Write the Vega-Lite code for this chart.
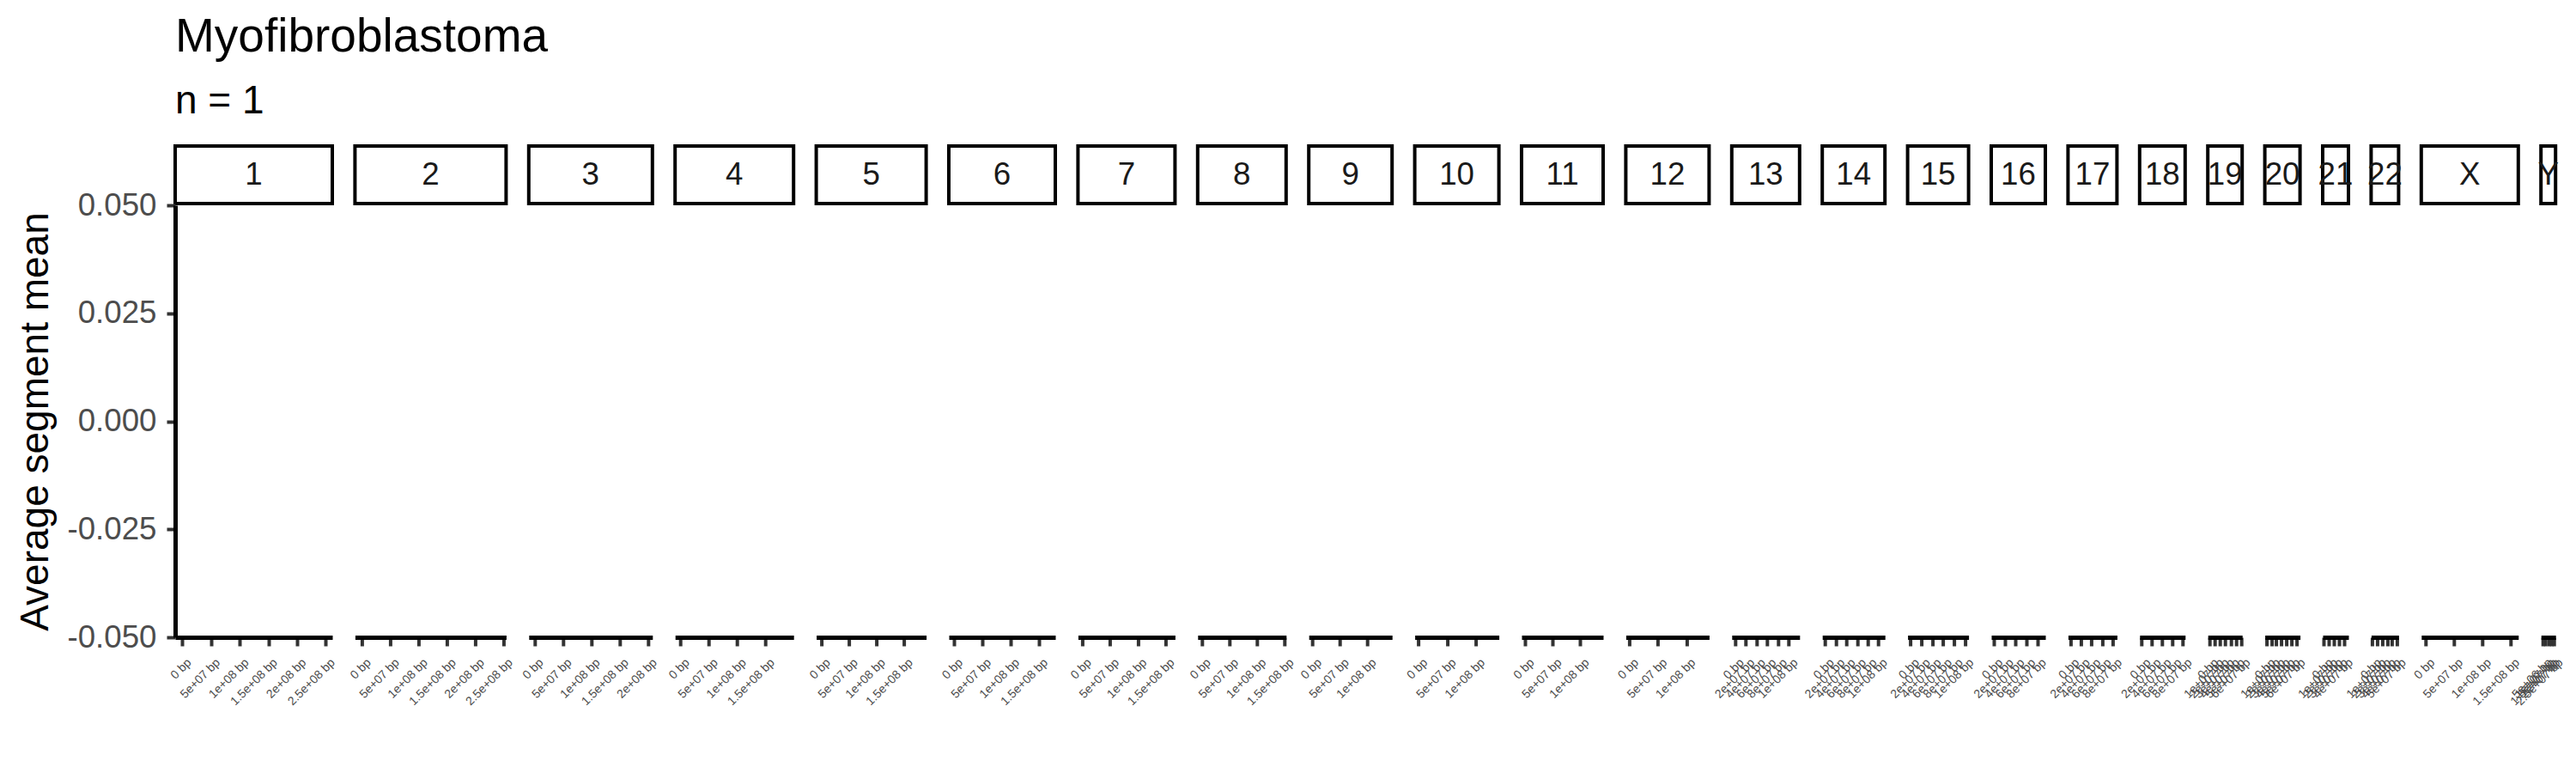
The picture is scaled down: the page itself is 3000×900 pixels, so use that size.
{
  "$schema": "https://vega.github.io/schema/vega-lite/v6.json",
  "background": "white",
  "padding": {"left": 18, "top": 16, "right": 10, "bottom": 10},
  "title": {"text": "Myofibroblastoma", "subtitle": "n = 1", "anchor": "start", "frame": "group", "fontSize": 55, "subtitleFontSize": 46, "font": "Liberation Sans", "subtitleFont": "Liberation Sans", "fontWeight": "normal", "color": "black", "subtitleColor": "black", "subtitlePadding": 24, "offset": 26},
  "datasets": {
    "chroms": [{"chrom":"1"},{"chrom":"2"},{"chrom":"3"},{"chrom":"4"},{"chrom":"5"},{"chrom":"6"},{"chrom":"7"},{"chrom":"8"},{"chrom":"9"},{"chrom":"10"},{"chrom":"11"},{"chrom":"12"},{"chrom":"13"},{"chrom":"14"},{"chrom":"15"},{"chrom":"16"},{"chrom":"17"},{"chrom":"18"},{"chrom":"19"},{"chrom":"20"},{"chrom":"21"},{"chrom":"22"},{"chrom":"X"},{"chrom":"Y"}],
    "extent": [
      {"chrom":"1","pos":0,"seg_mean":0},{"chrom":"1","pos":248956422,"seg_mean":0},
      {"chrom":"2","pos":0,"seg_mean":0},{"chrom":"2","pos":242193529,"seg_mean":0},
      {"chrom":"3","pos":0,"seg_mean":0},{"chrom":"3","pos":198295559,"seg_mean":0},
      {"chrom":"4","pos":0,"seg_mean":0},{"chrom":"4","pos":190214555,"seg_mean":0},
      {"chrom":"5","pos":0,"seg_mean":0},{"chrom":"5","pos":181538259,"seg_mean":0},
      {"chrom":"6","pos":0,"seg_mean":0},{"chrom":"6","pos":170805979,"seg_mean":0},
      {"chrom":"7","pos":0,"seg_mean":0},{"chrom":"7","pos":159345973,"seg_mean":0},
      {"chrom":"8","pos":0,"seg_mean":0},{"chrom":"8","pos":145138636,"seg_mean":0},
      {"chrom":"9","pos":0,"seg_mean":0},{"chrom":"9","pos":138394717,"seg_mean":0},
      {"chrom":"10","pos":0,"seg_mean":0},{"chrom":"10","pos":133797422,"seg_mean":0},
      {"chrom":"11","pos":0,"seg_mean":0},{"chrom":"11","pos":135086622,"seg_mean":0},
      {"chrom":"12","pos":0,"seg_mean":0},{"chrom":"12","pos":133275309,"seg_mean":0},
      {"chrom":"13","pos":0,"seg_mean":0},{"chrom":"13","pos":114364328,"seg_mean":0},
      {"chrom":"14","pos":0,"seg_mean":0},{"chrom":"14","pos":107043718,"seg_mean":0},
      {"chrom":"15","pos":0,"seg_mean":0},{"chrom":"15","pos":101991189,"seg_mean":0},
      {"chrom":"16","pos":0,"seg_mean":0},{"chrom":"16","pos":90338345,"seg_mean":0},
      {"chrom":"17","pos":0,"seg_mean":0},{"chrom":"17","pos":83257441,"seg_mean":0},
      {"chrom":"18","pos":0,"seg_mean":0},{"chrom":"18","pos":80373285,"seg_mean":0},
      {"chrom":"19","pos":0,"seg_mean":0},{"chrom":"19","pos":58617616,"seg_mean":0},
      {"chrom":"20","pos":0,"seg_mean":0},{"chrom":"20","pos":64444167,"seg_mean":0},
      {"chrom":"21","pos":0,"seg_mean":0},{"chrom":"21","pos":46709983,"seg_mean":0},
      {"chrom":"22","pos":0,"seg_mean":0},{"chrom":"22","pos":50818468,"seg_mean":0},
      {"chrom":"X","pos":0,"seg_mean":0},{"chrom":"X","pos":156040895,"seg_mean":0},
      {"chrom":"Y","pos":2781480,"seg_mean":0},{"chrom":"Y","pos":26673214,"seg_mean":0}
    ]
  },
  "columns": 24,
  "align": "each",
  "bounds": "flush",
  "spacing": {"row": 2, "column": 26.4},
  "concat": [
    {"data":{"name":"chroms"},"transform":[{"filter":"datum.chrom === '1'"}],"width":183,"height":67,"view":{"stroke":"black","strokeWidth":4},"mark":"text","encoding":{"text":{"field":"chrom","type":"nominal"}}},
    {"data":{"name":"chroms"},"transform":[{"filter":"datum.chrom === '2'"}],"width":176,"height":67,"view":{"stroke":"black","strokeWidth":4},"mark":"text","encoding":{"text":{"field":"chrom","type":"nominal"}}},
    {"data":{"name":"chroms"},"transform":[{"filter":"datum.chrom === '3'"}],"width":144,"height":67,"view":{"stroke":"black","strokeWidth":4},"mark":"text","encoding":{"text":{"field":"chrom","type":"nominal"}}},
    {"data":{"name":"chroms"},"transform":[{"filter":"datum.chrom === '4'"}],"width":138,"height":67,"view":{"stroke":"black","strokeWidth":4},"mark":"text","encoding":{"text":{"field":"chrom","type":"nominal"}}},
    {"data":{"name":"chroms"},"transform":[{"filter":"datum.chrom === '5'"}],"width":128,"height":67,"view":{"stroke":"black","strokeWidth":4},"mark":"text","encoding":{"text":{"field":"chrom","type":"nominal"}}},
    {"data":{"name":"chroms"},"transform":[{"filter":"datum.chrom === '6'"}],"width":124,"height":67,"view":{"stroke":"black","strokeWidth":4},"mark":"text","encoding":{"text":{"field":"chrom","type":"nominal"}}},
    {"data":{"name":"chroms"},"transform":[{"filter":"datum.chrom === '7'"}],"width":113,"height":67,"view":{"stroke":"black","strokeWidth":4},"mark":"text","encoding":{"text":{"field":"chrom","type":"nominal"}}},
    {"data":{"name":"chroms"},"transform":[{"filter":"datum.chrom === '8'"}],"width":103,"height":67,"view":{"stroke":"black","strokeWidth":4},"mark":"text","encoding":{"text":{"field":"chrom","type":"nominal"}}},
    {"data":{"name":"chroms"},"transform":[{"filter":"datum.chrom === '9'"}],"width":97,"height":67,"view":{"stroke":"black","strokeWidth":4},"mark":"text","encoding":{"text":{"field":"chrom","type":"nominal"}}},
    {"data":{"name":"chroms"},"transform":[{"filter":"datum.chrom === '10'"}],"width":98,"height":67,"view":{"stroke":"black","strokeWidth":4},"mark":"text","encoding":{"text":{"field":"chrom","type":"nominal"}}},
    {"data":{"name":"chroms"},"transform":[{"filter":"datum.chrom === '11'"}],"width":95,"height":67,"view":{"stroke":"black","strokeWidth":4},"mark":"text","encoding":{"text":{"field":"chrom","type":"nominal"}}},
    {"data":{"name":"chroms"},"transform":[{"filter":"datum.chrom === '12'"}],"width":97,"height":67,"view":{"stroke":"black","strokeWidth":4},"mark":"text","encoding":{"text":{"field":"chrom","type":"nominal"}}},
    {"data":{"name":"chroms"},"transform":[{"filter":"datum.chrom === '13'"}],"width":79,"height":67,"view":{"stroke":"black","strokeWidth":4},"mark":"text","encoding":{"text":{"field":"chrom","type":"nominal"}}},
    {"data":{"name":"chroms"},"transform":[{"filter":"datum.chrom === '14'"}],"width":73,"height":67,"view":{"stroke":"black","strokeWidth":4},"mark":"text","encoding":{"text":{"field":"chrom","type":"nominal"}}},
    {"data":{"name":"chroms"},"transform":[{"filter":"datum.chrom === '15'"}],"width":71,"height":67,"view":{"stroke":"black","strokeWidth":4},"mark":"text","encoding":{"text":{"field":"chrom","type":"nominal"}}},
    {"data":{"name":"chroms"},"transform":[{"filter":"datum.chrom === '16'"}],"width":63,"height":67,"view":{"stroke":"black","strokeWidth":4},"mark":"text","encoding":{"text":{"field":"chrom","type":"nominal"}}},
    {"data":{"name":"chroms"},"transform":[{"filter":"datum.chrom === '17'"}],"width":57,"height":67,"view":{"stroke":"black","strokeWidth":4},"mark":"text","encoding":{"text":{"field":"chrom","type":"nominal"}}},
    {"data":{"name":"chroms"},"transform":[{"filter":"datum.chrom === '18'"}],"width":53,"height":67,"view":{"stroke":"black","strokeWidth":4},"mark":"text","encoding":{"text":{"field":"chrom","type":"nominal"}}},
    {"data":{"name":"chroms"},"transform":[{"filter":"datum.chrom === '19'"}],"width":40,"height":67,"view":{"stroke":"black","strokeWidth":4},"mark":"text","encoding":{"text":{"field":"chrom","type":"nominal"}}},
    {"data":{"name":"chroms"},"transform":[{"filter":"datum.chrom === '20'"}],"width":41,"height":67,"view":{"stroke":"black","strokeWidth":4},"mark":"text","encoding":{"text":{"field":"chrom","type":"nominal"}}},
    {"data":{"name":"chroms"},"transform":[{"filter":"datum.chrom === '21'"}],"width":30,"height":67,"view":{"stroke":"black","strokeWidth":4},"mark":"text","encoding":{"text":{"field":"chrom","type":"nominal"}}},
    {"data":{"name":"chroms"},"transform":[{"filter":"datum.chrom === '22'"}],"width":32,"height":67,"view":{"stroke":"black","strokeWidth":4},"mark":"text","encoding":{"text":{"field":"chrom","type":"nominal"}}},
    {"data":{"name":"chroms"},"transform":[{"filter":"datum.chrom === 'X'"}],"width":113,"height":67,"view":{"stroke":"black","strokeWidth":4},"mark":"text","encoding":{"text":{"field":"chrom","type":"nominal"}}},
    {"data":{"name":"chroms"},"transform":[{"filter":"datum.chrom === 'Y'"}],"width":17,"height":67,"view":{"stroke":"black","strokeWidth":4},"mark":"text","encoding":{"text":{"field":"chrom","type":"nominal"}}},

    {"data":{"name":"extent"},"transform":[{"filter":"datum.chrom === '1'"}],"width":183,"height":503,"mark":"point","encoding":{"x":{"field":"pos","type":"quantitative","title":null,"scale":{"domain":[-12447821,261404243]},"axis":{"values":[0,50000000,100000000,150000000,200000000,250000000],"labelExpr":"datum.value == 0 ? '0 bp' : replace(format(datum.value, '.2~e'), 'e+', 'e+0') + ' bp'"}},"y":{"field":"seg_mean","type":"quantitative","title":"Average segment mean","scale":{"domain":[-0.05,0.05]},"axis":{"values":[-0.05,-0.025,0,0.025,0.05],"labelExpr":"replace(format(datum.value, '.3f'), '\u2212', '-')"}}}},
    {"data":{"name":"extent"},"transform":[{"filter":"datum.chrom === '2'"}],"width":176,"height":503,"mark":"point","encoding":{"x":{"field":"pos","type":"quantitative","title":null,"scale":{"domain":[-12109676,254303205]},"axis":{"values":[0,50000000,100000000,150000000,200000000,250000000],"labelExpr":"datum.value == 0 ? '0 bp' : replace(format(datum.value, '.2~e'), 'e+', 'e+0') + ' bp'"}},"y":{"field":"seg_mean","type":"quantitative","scale":{"domain":[-0.05,0.05]},"axis":null}}},
    {"data":{"name":"extent"},"transform":[{"filter":"datum.chrom === '3'"}],"width":144,"height":503,"mark":"point","encoding":{"x":{"field":"pos","type":"quantitative","title":null,"scale":{"domain":[-9914778,208210337]},"axis":{"values":[0,50000000,100000000,150000000,200000000],"labelExpr":"datum.value == 0 ? '0 bp' : replace(format(datum.value, '.2~e'), 'e+', 'e+0') + ' bp'"}},"y":{"field":"seg_mean","type":"quantitative","scale":{"domain":[-0.05,0.05]},"axis":null}}},
    {"data":{"name":"extent"},"transform":[{"filter":"datum.chrom === '4'"}],"width":138,"height":503,"mark":"point","encoding":{"x":{"field":"pos","type":"quantitative","title":null,"scale":{"domain":[-9510728,199725283]},"axis":{"values":[0,50000000,100000000,150000000],"labelExpr":"datum.value == 0 ? '0 bp' : replace(format(datum.value, '.2~e'), 'e+', 'e+0') + ' bp'"}},"y":{"field":"seg_mean","type":"quantitative","scale":{"domain":[-0.05,0.05]},"axis":null}}},
    {"data":{"name":"extent"},"transform":[{"filter":"datum.chrom === '5'"}],"width":128,"height":503,"mark":"point","encoding":{"x":{"field":"pos","type":"quantitative","title":null,"scale":{"domain":[-9076913,190615172]},"axis":{"values":[0,50000000,100000000,150000000],"labelExpr":"datum.value == 0 ? '0 bp' : replace(format(datum.value, '.2~e'), 'e+', 'e+0') + ' bp'"}},"y":{"field":"seg_mean","type":"quantitative","scale":{"domain":[-0.05,0.05]},"axis":null}}},
    {"data":{"name":"extent"},"transform":[{"filter":"datum.chrom === '6'"}],"width":124,"height":503,"mark":"point","encoding":{"x":{"field":"pos","type":"quantitative","title":null,"scale":{"domain":[-8540299,179346278]},"axis":{"values":[0,50000000,100000000,150000000],"labelExpr":"datum.value == 0 ? '0 bp' : replace(format(datum.value, '.2~e'), 'e+', 'e+0') + ' bp'"}},"y":{"field":"seg_mean","type":"quantitative","scale":{"domain":[-0.05,0.05]},"axis":null}}},
    {"data":{"name":"extent"},"transform":[{"filter":"datum.chrom === '7'"}],"width":113,"height":503,"mark":"point","encoding":{"x":{"field":"pos","type":"quantitative","title":null,"scale":{"domain":[-7967299,167313272]},"axis":{"values":[0,50000000,100000000,150000000],"labelExpr":"datum.value == 0 ? '0 bp' : replace(format(datum.value, '.2~e'), 'e+', 'e+0') + ' bp'"}},"y":{"field":"seg_mean","type":"quantitative","scale":{"domain":[-0.05,0.05]},"axis":null}}},
    {"data":{"name":"extent"},"transform":[{"filter":"datum.chrom === '8'"}],"width":103,"height":503,"mark":"point","encoding":{"x":{"field":"pos","type":"quantitative","title":null,"scale":{"domain":[-7256932,152395568]},"axis":{"values":[0,50000000,100000000,150000000],"labelExpr":"datum.value == 0 ? '0 bp' : replace(format(datum.value, '.2~e'), 'e+', 'e+0') + ' bp'"}},"y":{"field":"seg_mean","type":"quantitative","scale":{"domain":[-0.05,0.05]},"axis":null}}},
    {"data":{"name":"extent"},"transform":[{"filter":"datum.chrom === '9'"}],"width":97,"height":503,"mark":"point","encoding":{"x":{"field":"pos","type":"quantitative","title":null,"scale":{"domain":[-6919736,145314453]},"axis":{"values":[0,50000000,100000000],"labelExpr":"datum.value == 0 ? '0 bp' : replace(format(datum.value, '.2~e'), 'e+', 'e+0') + ' bp'"}},"y":{"field":"seg_mean","type":"quantitative","scale":{"domain":[-0.05,0.05]},"axis":null}}},
    {"data":{"name":"extent"},"transform":[{"filter":"datum.chrom === '10'"}],"width":98,"height":503,"mark":"point","encoding":{"x":{"field":"pos","type":"quantitative","title":null,"scale":{"domain":[-6689871,140487293]},"axis":{"values":[0,50000000,100000000],"labelExpr":"datum.value == 0 ? '0 bp' : replace(format(datum.value, '.2~e'), 'e+', 'e+0') + ' bp'"}},"y":{"field":"seg_mean","type":"quantitative","scale":{"domain":[-0.05,0.05]},"axis":null}}},
    {"data":{"name":"extent"},"transform":[{"filter":"datum.chrom === '11'"}],"width":95,"height":503,"mark":"point","encoding":{"x":{"field":"pos","type":"quantitative","title":null,"scale":{"domain":[-6754331,141840953]},"axis":{"values":[0,50000000,100000000],"labelExpr":"datum.value == 0 ? '0 bp' : replace(format(datum.value, '.2~e'), 'e+', 'e+0') + ' bp'"}},"y":{"field":"seg_mean","type":"quantitative","scale":{"domain":[-0.05,0.05]},"axis":null}}},
    {"data":{"name":"extent"},"transform":[{"filter":"datum.chrom === '12'"}],"width":97,"height":503,"mark":"point","encoding":{"x":{"field":"pos","type":"quantitative","title":null,"scale":{"domain":[-6663765,139939074]},"axis":{"values":[0,50000000,100000000],"labelExpr":"datum.value == 0 ? '0 bp' : replace(format(datum.value, '.2~e'), 'e+', 'e+0') + ' bp'"}},"y":{"field":"seg_mean","type":"quantitative","scale":{"domain":[-0.05,0.05]},"axis":null}}},
    {"data":{"name":"extent"},"transform":[{"filter":"datum.chrom === '13'"}],"width":79,"height":503,"mark":"point","encoding":{"x":{"field":"pos","type":"quantitative","title":null,"scale":{"domain":[-5718216,120082544]},"axis":{"values":[0,20000000,40000000,60000000,80000000,100000000],"labelExpr":"datum.value == 0 ? '0 bp' : replace(format(datum.value, '.2~e'), 'e+', 'e+0') + ' bp'"}},"y":{"field":"seg_mean","type":"quantitative","scale":{"domain":[-0.05,0.05]},"axis":null}}},
    {"data":{"name":"extent"},"transform":[{"filter":"datum.chrom === '14'"}],"width":73,"height":503,"mark":"point","encoding":{"x":{"field":"pos","type":"quantitative","title":null,"scale":{"domain":[-5352186,112395904]},"axis":{"values":[0,20000000,40000000,60000000,80000000,100000000],"labelExpr":"datum.value == 0 ? '0 bp' : replace(format(datum.value, '.2~e'), 'e+', 'e+0') + ' bp'"}},"y":{"field":"seg_mean","type":"quantitative","scale":{"domain":[-0.05,0.05]},"axis":null}}},
    {"data":{"name":"extent"},"transform":[{"filter":"datum.chrom === '15'"}],"width":71,"height":503,"mark":"point","encoding":{"x":{"field":"pos","type":"quantitative","title":null,"scale":{"domain":[-5099559,107090748]},"axis":{"values":[0,20000000,40000000,60000000,80000000,100000000],"labelExpr":"datum.value == 0 ? '0 bp' : replace(format(datum.value, '.2~e'), 'e+', 'e+0') + ' bp'"}},"y":{"field":"seg_mean","type":"quantitative","scale":{"domain":[-0.05,0.05]},"axis":null}}},
    {"data":{"name":"extent"},"transform":[{"filter":"datum.chrom === '16'"}],"width":63,"height":503,"mark":"point","encoding":{"x":{"field":"pos","type":"quantitative","title":null,"scale":{"domain":[-4516917,94855262]},"axis":{"values":[0,20000000,40000000,60000000,80000000],"labelExpr":"datum.value == 0 ? '0 bp' : replace(format(datum.value, '.2~e'), 'e+', 'e+0') + ' bp'"}},"y":{"field":"seg_mean","type":"quantitative","scale":{"domain":[-0.05,0.05]},"axis":null}}},
    {"data":{"name":"extent"},"transform":[{"filter":"datum.chrom === '17'"}],"width":57,"height":503,"mark":"point","encoding":{"x":{"field":"pos","type":"quantitative","title":null,"scale":{"domain":[-4162872,87420313]},"axis":{"values":[0,20000000,40000000,60000000,80000000],"labelExpr":"datum.value == 0 ? '0 bp' : replace(format(datum.value, '.2~e'), 'e+', 'e+0') + ' bp'"}},"y":{"field":"seg_mean","type":"quantitative","scale":{"domain":[-0.05,0.05]},"axis":null}}},
    {"data":{"name":"extent"},"transform":[{"filter":"datum.chrom === '18'"}],"width":53,"height":503,"mark":"point","encoding":{"x":{"field":"pos","type":"quantitative","title":null,"scale":{"domain":[-4018664,84391949]},"axis":{"values":[0,20000000,40000000,60000000,80000000],"labelExpr":"datum.value == 0 ? '0 bp' : replace(format(datum.value, '.2~e'), 'e+', 'e+0') + ' bp'"}},"y":{"field":"seg_mean","type":"quantitative","scale":{"domain":[-0.05,0.05]},"axis":null}}},
    {"data":{"name":"extent"},"transform":[{"filter":"datum.chrom === '19'"}],"width":40,"height":503,"mark":"point","encoding":{"x":{"field":"pos","type":"quantitative","title":null,"scale":{"domain":[-2930881,61548497]},"axis":{"values":[0,10000000,20000000,30000000,40000000,50000000,60000000],"labelExpr":"datum.value == 0 ? '0 bp' : replace(format(datum.value, '.2~e'), 'e+', 'e+0') + ' bp'"}},"y":{"field":"seg_mean","type":"quantitative","scale":{"domain":[-0.05,0.05]},"axis":null}}},
    {"data":{"name":"extent"},"transform":[{"filter":"datum.chrom === '20'"}],"width":41,"height":503,"mark":"point","encoding":{"x":{"field":"pos","type":"quantitative","title":null,"scale":{"domain":[-3222208,67666375]},"axis":{"values":[0,10000000,20000000,30000000,40000000,50000000,60000000],"labelExpr":"datum.value == 0 ? '0 bp' : replace(format(datum.value, '.2~e'), 'e+', 'e+0') + ' bp'"}},"y":{"field":"seg_mean","type":"quantitative","scale":{"domain":[-0.05,0.05]},"axis":null}}},
    {"data":{"name":"extent"},"transform":[{"filter":"datum.chrom === '21'"}],"width":30,"height":503,"mark":"point","encoding":{"x":{"field":"pos","type":"quantitative","title":null,"scale":{"domain":[-2335499,49045482]},"axis":{"values":[0,10000000,20000000,30000000,40000000],"labelExpr":"datum.value == 0 ? '0 bp' : replace(format(datum.value, '.2~e'), 'e+', 'e+0') + ' bp'"}},"y":{"field":"seg_mean","type":"quantitative","scale":{"domain":[-0.05,0.05]},"axis":null}}},
    {"data":{"name":"extent"},"transform":[{"filter":"datum.chrom === '22'"}],"width":32,"height":503,"mark":"point","encoding":{"x":{"field":"pos","type":"quantitative","title":null,"scale":{"domain":[-2540923,53359391]},"axis":{"values":[0,10000000,20000000,30000000,40000000,50000000],"labelExpr":"datum.value == 0 ? '0 bp' : replace(format(datum.value, '.2~e'), 'e+', 'e+0') + ' bp'"}},"y":{"field":"seg_mean","type":"quantitative","scale":{"domain":[-0.05,0.05]},"axis":null}}},
    {"data":{"name":"extent"},"transform":[{"filter":"datum.chrom === 'X'"}],"width":113,"height":503,"mark":"point","encoding":{"x":{"field":"pos","type":"quantitative","title":null,"scale":{"domain":[-7802045,163842940]},"axis":{"values":[0,50000000,100000000,150000000],"labelExpr":"datum.value == 0 ? '0 bp' : replace(format(datum.value, '.2~e'), 'e+', 'e+0') + ' bp'"}},"y":{"field":"seg_mean","type":"quantitative","scale":{"domain":[-0.05,0.05]},"axis":null}}},
    {"data":{"name":"extent"},"transform":[{"filter":"datum.chrom === 'Y'"}],"width":17,"height":503,"mark":"point","encoding":{"x":{"field":"pos","type":"quantitative","title":null,"scale":{"domain":[1586893,27867801]},"axis":{"values":[5000000,10000000,15000000,20000000,25000000],"labelExpr":"datum.value == 0 ? '0 bp' : replace(format(datum.value, '.2~e'), 'e+', 'e+0') + ' bp'"}},"y":{"field":"seg_mean","type":"quantitative","scale":{"domain":[-0.05,0.05]},"axis":null}}}
  ],
  "config": {
    "font": "Liberation Sans",
    "view": {"stroke": null},
    "point": {"opacity": 0},
    "text": {"fontSize": 36.7, "color": "#1A1A1A", "font": "Liberation Sans"},
    "axis": {"grid": false, "domainColor": "black", "domainWidth": 5, "tickColor": "#333333", "tickWidth": 4, "tickSize": 10, "labelColor": "#4D4D4D", "labelFont": "Liberation Sans", "titleFont": "Liberation Sans", "titleFontWeight": "normal", "titleColor": "black", "labelOverlap": false, "labelFlush": false, "labelBound": false},
    "axisX": {"labelFontSize": 14, "labelAngle": -45, "labelAlign": "right", "labelBaseline": "top", "labelPadding": 12, "labelOffset": 3},
    "axisY": {"labelFontSize": 36.7, "labelPadding": 12, "titleFontSize": 46, "titlePadding": 12}
  }
}
